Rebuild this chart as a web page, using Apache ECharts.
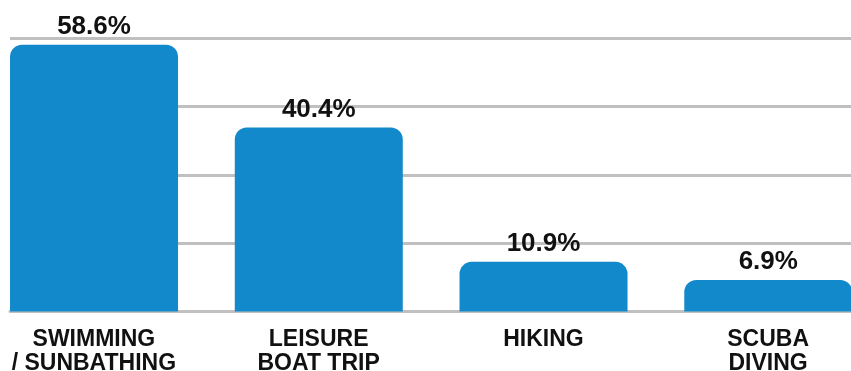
<!DOCTYPE html>
<html>
<head>
<meta charset="utf-8">
<script src="https://cdn.jsdelivr.net/npm/echarts@6/dist/echarts.min.js"></script>
<style>
  html, body { margin: 0; padding: 0; background: #ffffff; }
  #chart { width: 851px; height: 371px; }
</style>
</head>
<body>
<div id="chart"></div>
<script>
// Activity categories and their share of respondents (%)
var categories = ['SWIMMING\n/ SUNBATHING', 'LEISURE\nBOAT TRIP', 'HIKING', 'SCUBA\nDIVING'];
var shares = [58.6, 40.4, 10.9, 6.9];
var yTicks = { min: 0, max: 60, interval: 15 };

var BAR_COLOR = '#1289ca';
var GRID_COLOR = '#c0c0c0';
var FONT = '"Liberation Sans", Arial, sans-serif';

var chart = echarts.init(document.getElementById('chart'), null, { renderer: 'canvas' });

chart.setOption({
  animation: false,
  // plot area runs past the right edge of the canvas
  grid: {
    left: 10, width: 899, top: 38.3, height: 273.2,
    containLabel: false,
    outerBoundsMode: 'none'
  },
  xAxis: {
    type: 'category',
    data: categories,
    axisLine: { show: true, lineStyle: { color: GRID_COLOR, width: 3 } },
    axisTick: { show: false },
    axisLabel: {
      interval: 0,
      margin: 16,
      color: '#111111',
      fontFamily: FONT,
      fontWeight: 'bold',
      fontSize: 23,
      lineHeight: 24,
      align: 'center',
      padding: [0, 57, 0, 0]
    }
  },
  yAxis: {
    type: 'value',
    min: yTicks.min,
    max: yTicks.max,
    interval: yTicks.interval,
    axisLine: { show: false },
    axisTick: { show: false },
    axisLabel: { show: false },
    splitLine: { show: true, lineStyle: { color: GRID_COLOR, width: 3 } }
  },
  series: [
    {
      name: 'share',
      type: 'bar',
      data: shares,
      barWidth: 168,
      barGap: '0%',
      itemStyle: { color: BAR_COLOR, borderRadius: [12, 12, 0, 0] },
      label: {
        show: true,
        position: 'top',
        distance: 5,
        formatter: function (p) { return p.value.toFixed(1) + '%'; },
        color: '#111111',
        fontFamily: FONT,
        fontWeight: 'bold',
        fontSize: 26
      },
      z: 3
    },
    {
      // empty companion series that keeps each bar at the left of its slot
      name: 'spacer',
      type: 'bar',
      data: categories.map(function () { return '-'; }),
      barWidth: 56.7,
      itemStyle: { color: 'transparent' },
      silent: true
    }
  ]
});
</script>
</body>
</html>
